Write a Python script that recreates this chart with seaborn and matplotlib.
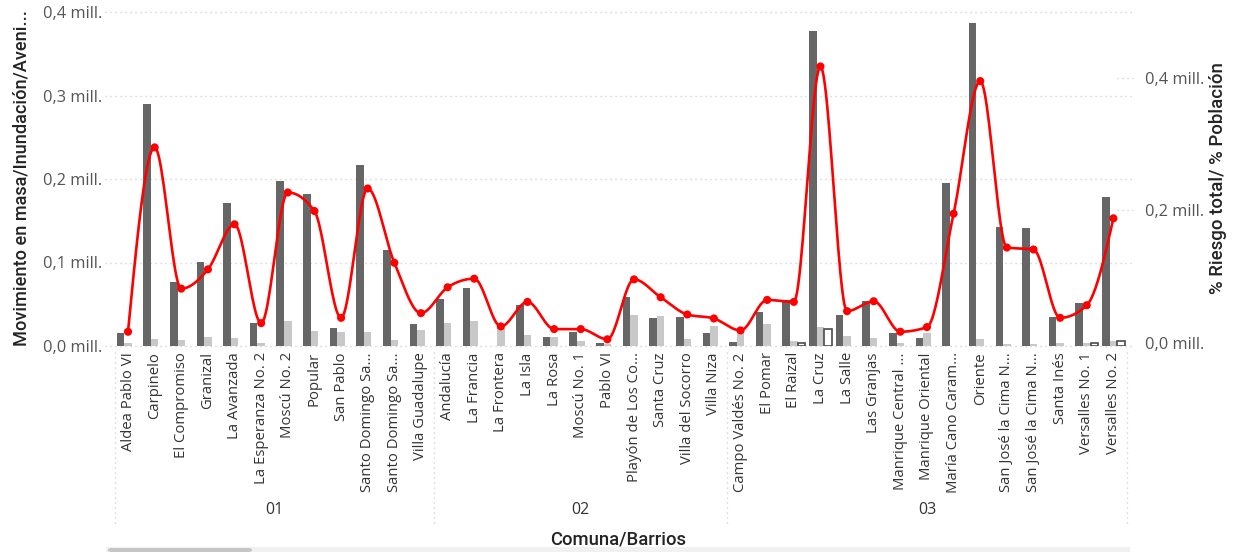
import numpy as np
import pandas as pd
import matplotlib
matplotlib.use("Agg")
import matplotlib.pyplot as plt
import seaborn as sns
from matplotlib.transforms import blended_transform_factory
from matplotlib.patches import FancyBboxPatch

# --- data ---------------------------------------------------------------
comunas = ["01", "02", "03"]
comuna_sizes = [12, 11, 15]

barrios = [
    "Aldea Pablo VI", "Carpinelo", "El Compromiso", "Granizal", "La Avanzada",
    "La Esperanza No. 2", "Moscú No. 2", "Popular", "San Pablo",
    "Santo Domingo Savio No. 1", "Santo Domingo Savio No. 2", "Villa Guadalupe",
    "Andalucía", "La Francia", "La Frontera", "La Isla", "La Rosa", "Moscú No. 1",
    "Pablo VI", "Playón de Los Comuneros", "Santa Cruz", "Villa del Socorro",
    "Villa Niza",
    "Campo Valdés No. 2", "El Pomar", "El Raizal", "La Cruz", "La Salle",
    "Las Granjas", "Manrique Central No. 1", "Manrique Oriental",
    "María Cano Carambolas", "Oriente", "San José la Cima No. 1",
    "San José la Cima No. 2", "Santa Inés", "Versalles No. 1", "Versalles No. 2",
]

barrio_labels = [
    "Aldea Pablo VI", "Carpinelo", "El Compromiso", "Granizal", "La Avanzada",
    "La Esperanza No. 2", "Moscú No. 2", "Popular", "San Pablo",
    "Santo Domingo Sa...", "Santo Domingo Sa...", "Villa Guadalupe",
    "Andalucía", "La Francia", "La Frontera", "La Isla", "La Rosa", "Moscú No. 1",
    "Pablo VI", "Playón de Los Co...", "Santa Cruz", "Villa del Socorro",
    "Villa Niza",
    "Campo Valdés No. 2", "El Pomar", "El Raizal", "La Cruz", "La Salle",
    "Las Granjas", "Manrique Central ...", "Manrique Oriental",
    "María Cano Caram...", "Oriente", "San José la Cima N...",
    "San José la Cima N...", "Santa Inés", "Versalles No. 1", "Versalles No. 2",
]

movimiento_masa = [
    16000, 290000, 77000, 101000, 171000, 27000, 198000, 182000, 21000,
    217000, 115000, 26000,
    56000, 69000, 0, 49000, 11000, 17000, 4000, 59000, 33000, 35000, 15000,
    5000, 41000, 55000, 377000, 37500, 54000, 16000, 10000, 195000, 387000,
    142500, 141000, 35000, 52000, 178000,
]

inundacion = [
    3000, 8000, 7000, 11000, 9000, 4000, 30000, 18000, 17000, 17000, 7500,
    19000,
    28000, 30000, 21000, 13500, 11000, 6000, 2000, 37500, 36000, 8700, 24000,
    17600, 26000, 5600, 22400, 12300, 10000, 3000, 16000, 0, 8700, 2000, 2000,
    3000, 4000, 5600,
]

avenida_torrencial = [
    0, 0, 0, 0, 0, 0, 0, 0, 0, 0, 0, 0,
    0, 0, 0, 0, 0, 0, 0, 0, 0, 0, 0,
    0, 0, 3600, 20000, 0, 0, 0, 0, 0, 0, 0, 0, 0, 3000, 5600,
]

riesgo_poblacion = [
    17000, 295000, 82000, 111000, 179000, 30000, 227000, 199000, 38000,
    233000, 121000, 45000,
    84000, 97000, 25000, 62000, 21000, 21000, 5600, 96000, 69000, 43000, 37000,
    19000, 65000, 62000, 417000, 48000, 63000, 17000, 24000, 195000, 395000,
    144000, 141000, 38000, 57000, 188000,
]

series_names = ["Movimiento en masa", "Inundación", "Avenida torrencial"]
series_colors = ["#666666", "#c8c8c8", "#ffffff"]

# --- helpers ------------------------------------------------------------
def mill(v, _pos=None):
    return f"{v / 1e6:.1f}".replace(".", ",") + " mill."


def monotone_path(values, steps=24):
    """Monotone cubic (Steffen) path through equally spaced points."""
    y = np.asarray(values, dtype=float)
    n = len(y)
    s = np.diff(y)
    m = np.zeros(n)
    for i in range(1, n - 1):
        s0, s1 = s[i - 1], s[i]
        p = 0.5 * (s0 + s1)
        m[i] = (np.sign(s0) + np.sign(s1)) * min(abs(s0), abs(s1), 0.5 * abs(p))
    m[0] = (3 * s[0] - m[1]) / 2
    m[-1] = (3 * s[-1] - m[-2]) / 2
    xs, ys = [], []
    t = np.linspace(0, 1, steps, endpoint=False)
    h00 = 2 * t**3 - 3 * t**2 + 1
    h10 = t**3 - 2 * t**2 + t
    h01 = -2 * t**3 + 3 * t**2
    h11 = t**3 - t**2
    for i in range(n - 1):
        xs.append(i + t)
        ys.append(h00 * y[i] + h10 * m[i] + h01 * y[i + 1] + h11 * m[i + 1])
    xs.append([n - 1])
    ys.append([y[-1]])
    return np.concatenate(xs), np.concatenate(ys)


# --- figure -------------------------------------------------------------
sns.set_theme(style="white")
plt.rcParams["font.family"] = ["Open Sans", "DejaVu Sans"]

W, H = 1236, 552
fig = plt.figure(figsize=(W / 100, H / 100), dpi=100)
ax_left, ax_right, ax_top, ax_bottom = 114.7, 1126.7, 12, 346
ax = fig.add_axes([ax_left / W, 1 - ax_bottom / H,
                   (ax_right - ax_left) / W, (ax_bottom - ax_top) / H])

long = pd.DataFrame({
    "barrio": barrios * 3,
    "serie": np.repeat(series_names, len(barrios)),
    "valor": movimiento_masa + inundacion + avenida_torrencial,
})

sns.barplot(data=long, x="barrio", y="valor", hue="serie", order=barrios,
            hue_order=series_names, palette=series_colors, width=0.85,
            saturation=1, errorbar=None, legend=False, linewidth=0, ax=ax)

# outlined third series; empty bars stay invisible
for bar in ax.containers[2]:
    if bar.get_height() > 0:
        bar.set_edgecolor("#4a4a4a")
        bar.set_linewidth(1.2)
    else:
        bar.set_visible(False)

n = len(barrios)
ax.set_xlim(-0.5, n - 0.5)
ax.set_ylim(0, 400000)
ax.set_yticks([0, 100000, 200000, 300000, 400000])
ax.yaxis.set_major_formatter(plt.FuncFormatter(mill))
ax.set_xticks(range(n))
ax.set_xticklabels(barrio_labels, rotation=90, ha="center", va="top")
ax.tick_params(axis="x", length=0, pad=4.5, labelsize=10.7, labelcolor="#333333")
ax.tick_params(axis="y", length=0, pad=9, labelsize=11.8, labelcolor="#555555")
ax.set_xlabel("")
ax.set_ylabel("")
for sp in ax.spines.values():
    sp.set_visible(False)
ax.grid(False)

dot = (0, (0.8, 2.8))
grid_col = "#c8c8c8"
ytr = ax.get_yaxis_transform()
for yv in [0, 100000, 200000, 300000, 400000]:
    ax.plot([-0.0096, 1.0063], [yv, yv], transform=ytr, color=grid_col,
            lw=1, ls=dot, clip_on=False, zorder=0.5)

# secondary axis: smoothed risk line
ax2 = ax.twinx()
ax2.set_ylim(-4500, 499100)
ax2.set_yticks([0, 200000, 400000])
ax2.yaxis.set_major_formatter(plt.FuncFormatter(mill))
ax2.tick_params(axis="y", length=0, pad=13, labelsize=11.8, labelcolor="#555555")
for sp in ax2.spines.values():
    sp.set_visible(False)
ax2.grid(False)
y2tr = ax2.get_yaxis_transform()
for yv in [200000, 400000]:
    ax2.plot([0.99, 1.0063], [yv, yv], transform=y2tr, color=grid_col,
             lw=1, ls=dot, clip_on=False)

cx, cy = monotone_path(riesgo_poblacion)
ax2.plot(cx, cy, color="#fe0000", lw=1.9, solid_capstyle="round", zorder=3)
sns.scatterplot(x=np.arange(n), y=riesgo_poblacion, color="#fe0000", s=34,
                edgecolor="none", ax=ax2, zorder=4)
ax2.set_xlim(-0.5, n - 0.5)

# group axis below the category labels
btr = blended_transform_factory(ax.transData, fig.transFigure)
bounds = np.cumsum([0] + comuna_sizes) - 0.5
for b in bounds:
    ax.plot([b, b], [1 - 352 / H, 1 - 525 / H], transform=btr, color=grid_col,
            lw=1, ls=dot, clip_on=False)
for name, lo, hi in zip(comunas, bounds[:-1], bounds[1:]):
    ax.text((lo + hi) / 2, 1 - 510 / H, name, transform=btr, ha="center",
            va="center", fontsize=11.5, color="#333333")

# axis titles
title_font = ["Roboto", "DejaVu Sans"]
fig.text(618 / W, 1 - 539 / H, "Comuna/Barrios", ha="center", va="center",
         fontsize=13.3, color="#252423", family=title_font, weight="medium")
fig.text(22 / W, 1 - 178 / H, "Movimiento en masa/Inundación/Aveni...",
         rotation=90, ha="center", va="center", fontsize=13.1,
         color="#252423", family=title_font, weight="medium")
fig.text(1218 / W, 1 - 178 / H, "% Riesgo total/ % Población", rotation=90,
         ha="center", va="center", fontsize=13.4, color="#252423",
         family=title_font, weight="medium")

# horizontal scroll bar
fig.patches.append(FancyBboxPatch((106 / W, 0), (1130 - 106) / W, 5 / H,
                                  boxstyle="square,pad=0", transform=fig.transFigure,
                                  facecolor="#f1f1f1", edgecolor="none"))
fig.patches.append(FancyBboxPatch((108 / W, 0), (252 - 108) / W, 4 / H,
                                  boxstyle="round,pad=0,rounding_size=0.003",
                                  transform=fig.transFigure,
                                  facecolor="#c6c6c6", edgecolor="none"))

fig.savefig("out.png", dpi=100, facecolor="white")
